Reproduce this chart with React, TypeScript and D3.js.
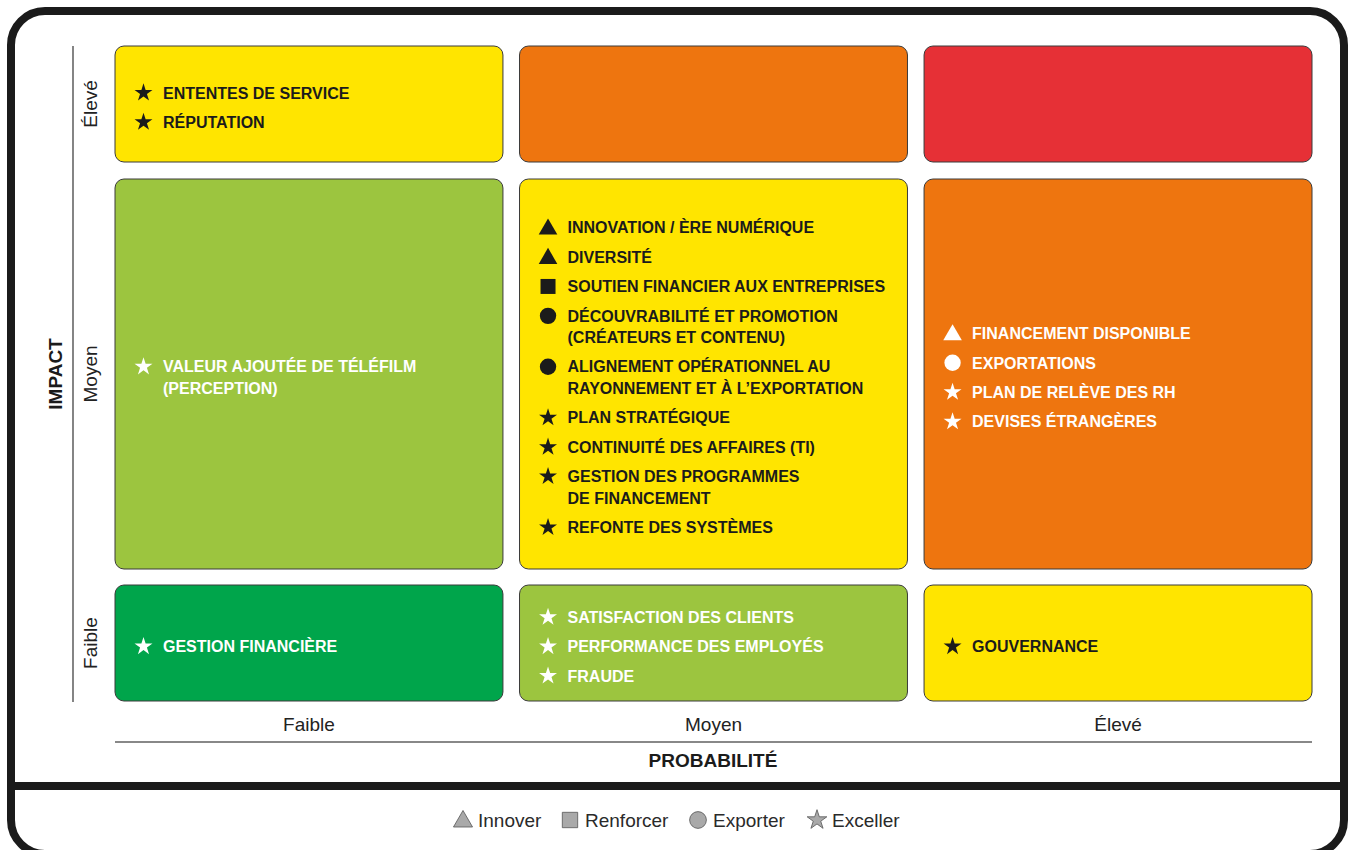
import React from "react";
import * as d3 from "d3";

// axis categories
const probLevels = ["Faible", "Moyen", "Élevé"];
const impactLevels = ["Élevé", "Moyen", "Faible"]; // top to bottom

// cell colours, rows = impact (top to bottom), cols = probability
const cellColors = [
  ["#FFE500", "#EE750F", "#E63036"],
  ["#9CC53F", "#FFE500", "#EE750F"],
  ["#00A54B", "#9CC53F", "#FFE500"],
];

type Shape = "triangle" | "square" | "circle" | "star";
type Item = { prob: string; impact: string; shape: Shape; lines: string[] };

const items: Item[] = [
  { prob: "Faible", impact: "Élevé", shape: "star", lines: ["ENTENTES DE SERVICE"] },
  { prob: "Faible", impact: "Élevé", shape: "star", lines: ["RÉPUTATION"] },
  { prob: "Faible", impact: "Moyen", shape: "star", lines: ["VALEUR AJOUTÉE DE TÉLÉFILM", "(PERCEPTION)"] },
  { prob: "Moyen", impact: "Moyen", shape: "triangle", lines: ["INNOVATION / ÈRE NUMÉRIQUE"] },
  { prob: "Moyen", impact: "Moyen", shape: "triangle", lines: ["DIVERSITÉ"] },
  { prob: "Moyen", impact: "Moyen", shape: "square", lines: ["SOUTIEN FINANCIER AUX ENTREPRISES"] },
  { prob: "Moyen", impact: "Moyen", shape: "circle", lines: ["DÉCOUVRABILITÉ ET PROMOTION", "(CRÉATEURS ET CONTENU)"] },
  { prob: "Moyen", impact: "Moyen", shape: "circle", lines: ["ALIGNEMENT OPÉRATIONNEL AU", "RAYONNEMENT ET À L’EXPORTATION"] },
  { prob: "Moyen", impact: "Moyen", shape: "star", lines: ["PLAN STRATÉGIQUE"] },
  { prob: "Moyen", impact: "Moyen", shape: "star", lines: ["CONTINUITÉ DES AFFAIRES (TI)"] },
  { prob: "Moyen", impact: "Moyen", shape: "star", lines: ["GESTION DES PROGRAMMES", "DE FINANCEMENT"] },
  { prob: "Moyen", impact: "Moyen", shape: "star", lines: ["REFONTE DES SYSTÈMES"] },
  { prob: "Élevé", impact: "Moyen", shape: "triangle", lines: ["FINANCEMENT DISPONIBLE"] },
  { prob: "Élevé", impact: "Moyen", shape: "circle", lines: ["EXPORTATIONS"] },
  { prob: "Élevé", impact: "Moyen", shape: "star", lines: ["PLAN DE RELÈVE DES RH"] },
  { prob: "Élevé", impact: "Moyen", shape: "star", lines: ["DEVISES ÉTRANGÈRES"] },
  { prob: "Faible", impact: "Faible", shape: "star", lines: ["GESTION FINANCIÈRE"] },
  { prob: "Moyen", impact: "Faible", shape: "star", lines: ["SATISFACTION DES CLIENTS"] },
  { prob: "Moyen", impact: "Faible", shape: "star", lines: ["PERFORMANCE DES EMPLOYÉS"] },
  { prob: "Moyen", impact: "Faible", shape: "star", lines: ["FRAUDE"] },
  { prob: "Élevé", impact: "Faible", shape: "star", lines: ["GOUVERNANCE"] },
];

const legendShapes: Shape[] = ["triangle", "square", "circle", "star"];
const legendLabels = ["Innover", "Renforcer", "Exporter", "Exceller"];

const W = 1351;
const H = 850;
const FONT = "'Liberation Sans', Arial, Helvetica, sans-serif";
const DARK = "#1b1b1b";

const symbolType = {
  triangle: d3.symbolTriangle,
  square: d3.symbolSquare,
  circle: d3.symbolCircle,
  star: d3.symbolStar,
};
const symbolSize = { triangle: 150, square: 225, circle: 210, star: 100 };
const sym = (s: Shape, scale = 1) =>
  d3.symbol().type(symbolType[s]).size(symbolSize[s] * scale)()!;

const lightText = (c: string) => c !== "#FFE500";

const App = () => {
  const x = d3.scaleBand().domain(probLevels).range([115, 1312]).paddingInner(0.041);

  // rows have different heights, the middle one holds the long list
  const rowEdges = [46, 162, 179, 569, 585, 701];
  const y = d3.scaleOrdinal<string, number>().domain(impactLevels).range([0, 2, 4].map(i => rowEdges[i]));
  const rowH = d3.scaleOrdinal<string, number>().domain(impactLevels).range([0, 2, 4].map(i => rowEdges[i + 1] - rowEdges[i]));

  const itemGap = 29.4;
  const lineGap = 21.5;

  const cells = impactLevels.flatMap((imp, r) =>
    probLevels.map((p, c) => {
      const list = items.filter(d => d.prob === p && d.impact === imp);
      const span = list.reduce((s, d) => s + (d.lines.length - 1) * lineGap, 0) + Math.max(0, list.length - 1) * itemGap;
      const cy = y(imp) + rowH(imp) / 2 + 3.5;
      let cur = cy - span / 2;
      const placed = list.map(d => {
        const top = cur;
        cur += (d.lines.length - 1) * lineGap + itemGap;
        return { ...d, top };
      });
      return { imp, p, color: cellColors[r][c], placed };
    })
  );

  const legendY = 820;
  const legendX = [463, 570, 698, 817];

  return (
    <svg width={W} height={H} style={{ position: "absolute", left: 0, top: 0, fontFamily: FONT }}>
      <rect x={0} y={0} width={W} height={H} fill="#fff" />
      {/* frame, bottom edge runs past the page */}
      <rect x={11} y={11} width={1333} height={843} rx={34} ry={34} fill="none" stroke={DARK} strokeWidth={8} />
      <line x1={11} x2={1344} y1={786} y2={786} stroke={DARK} strokeWidth={8} />

      {/* impact axis */}
      <line x1={73} x2={73} y1={46} y2={702} stroke="#333" strokeWidth={1.2} />
      {impactLevels.map(imp => (
        <text key={imp} transform={`translate(97,${y(imp) + rowH(imp) / 2}) rotate(-90)`} textAnchor="middle"
          fontSize={19} fill="#222">{imp}</text>
      ))}
      <text transform={`translate(62,374) rotate(-90)`} textAnchor="middle" fontSize={19} fontWeight="bold" fill={DARK}>IMPACT</text>

      {/* probability axis */}
      {probLevels.map(p => (
        <text key={p} x={x(p)! + x.bandwidth() / 2} y={731} textAnchor="middle" fontSize={19} fill="#222">{p}</text>
      ))}
      <line x1={115} x2={1312} y1={742} y2={742} stroke="#888" strokeWidth={2} />
      <text x={713} y={767} textAnchor="middle" fontSize={19} fontWeight="bold" fill={DARK}>PROBABILITÉ</text>

      {/* cells */}
      {cells.map(cell => {
        const cx = x(cell.p)!;
        const tc = lightText(cell.color) ? "#fff" : DARK;
        return (
          <g key={cell.imp + cell.p}>
            <rect x={cx} y={y(cell.imp)} width={x.bandwidth()} height={rowH(cell.imp)} rx={9} ry={9}
              fill={cell.color} stroke="#3a3a3a" strokeWidth={1} />
            {cell.placed.map((d, i) => (
              <g key={i}>
                <path d={sym(d.shape)} transform={`translate(${cx + 28.5},${d.top + (d.shape === "triangle" ? 1.5 : 0)})`} fill={tc} />
                {d.lines.map((ln, j) => (
                  <text key={j} x={cx + 48} y={d.top + j * lineGap + 5.7} fontSize={16} fontWeight="bold" fill={tc}>{ln}</text>
                ))}
              </g>
            ))}
          </g>
        );
      })}

      {/* legend */}
      {legendShapes.map((s, i) => (
        <g key={s}>
          <path d={sym(s, s === "star" ? 1.2 : 1.05)} transform={`translate(${legendX[i]},${legendY + (s === "triangle" ? 1.5 : 0)})`}
            fill="#a9a9a9" stroke="#555" strokeWidth={0.8} />
          <text x={legendX[i] + 15} y={legendY + 7} fontSize={19} fill="#2a2a2a">{legendLabels[i]}</text>
        </g>
      ))}
    </svg>
  );
};

export default App;
